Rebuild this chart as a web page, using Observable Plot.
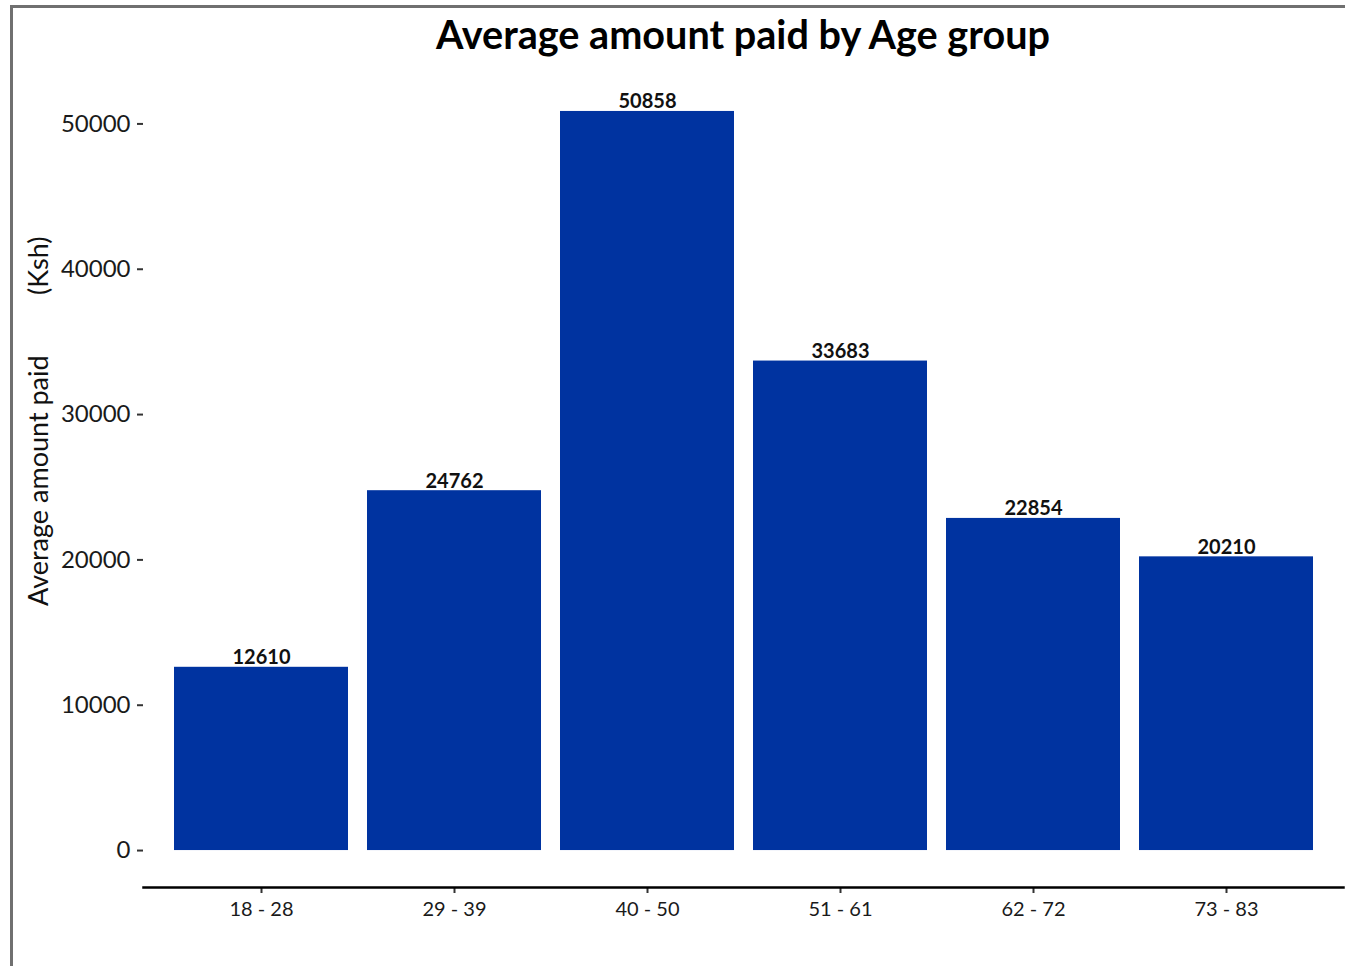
<!DOCTYPE html>
<html>
<head>
<meta charset="utf-8">
<script src="https://cdn.jsdelivr.net/npm/d3@7"></script>
<script src="https://cdn.jsdelivr.net/npm/@observablehq/plot@0.6"></script>
<style>
  body { margin: 0; background: #fff; font-family: Lato, "Open Sans", sans-serif; }
  #page { position: relative; width: 1345px; height: 966px; overflow: hidden; background: #fff; }
  #frame { position: absolute; left: 10px; top: 5px; right: -20px; bottom: -20px;
           border-left: 3px solid #707070; border-top: 3px solid #707070; }
  #title { position: absolute; left: 143px; width: 1200px; top: 12px; text-align: center;
           font-weight: 700; font-size: 39.6px; line-height: 44px; color: #000; }
  #ylabel { position: absolute; left: 22px; top: 232px; height: 378px; width: 32px;
            writing-mode: vertical-rl; transform: rotate(180deg); text-align: center;
            font-size: 27px; line-height: 32px; color: #111; white-space: nowrap; }
  #ylabel .unit { margin-top: 60px; }
  #chart { position: absolute; left: 0; top: 0; }
</style>
</head>
<body>
<div id="page">
  <div id="frame"></div>
  <div id="chart"></div>
  <div id="title">Average amount paid by Age group</div>
  <div id="ylabel"><span>Average amount paid</span><span class="unit">(Ksh)</span></div>
</div>
<script>
// Age bands and the average amount paid in each (Ksh)
const ageGroups = ["18 - 28", "29 - 39", "40 - 50", "51 - 61", "62 - 72", "73 - 83"];
const avgPaid = [12610, 24762, 50858, 33683, 22854, 20210];
const yTicks = [0, 10000, 20000, 30000, 40000, 50000];

const rows = ageGroups.map((group, i) => ({ group, paid: avgPaid[i] }));

// y domain padded 5% beyond the data range on both ends
const maxPaid = d3.max(avgPaid);
const yPad = maxPaid * 0.05;

const chart = Plot.plot({
  width: 1345,
  height: 966,
  marginLeft: 143,
  marginRight: 2,
  marginTop: 74,
  marginBottom: 79,
  style: { fontFamily: "Lato, 'Open Sans', sans-serif", background: "transparent", color: "#1a1a1a" },
  x: { type: "band", domain: ageGroups, paddingInner: 0.1, paddingOuter: 0.15 },
  y: { domain: [-yPad, maxPaid + yPad] },
  marks: [
    Plot.barY(rows, { x: "group", y: "paid", fill: "#0033a0" }),
    Plot.text(rows, {
      x: "group", y: "paid", text: d => String(d.paid),
      lineAnchor: "bottom", dy: -3, fontWeight: 700, fontSize: 20, fill: "#111"
    }),
    Plot.axisY({
      ticks: yTicks, tickFormat: d => String(d), tickSize: 6, tickPadding: 7,
      fontSize: 24, label: null, stroke: "#333", strokeWidth: 2, fill: "#1a1a1a"
    }),
    Plot.axisX({
      tickSize: 6, tickPadding: 8, fontSize: 20, label: null,
      stroke: "#333", strokeWidth: 2, fill: "#1a1a1a"
    }),
    Plot.frame({ anchor: "bottom", stroke: "#000", strokeWidth: 2.5 })
  ]
});

document.getElementById("chart").appendChild(chart);
</script>
</body>
</html>
